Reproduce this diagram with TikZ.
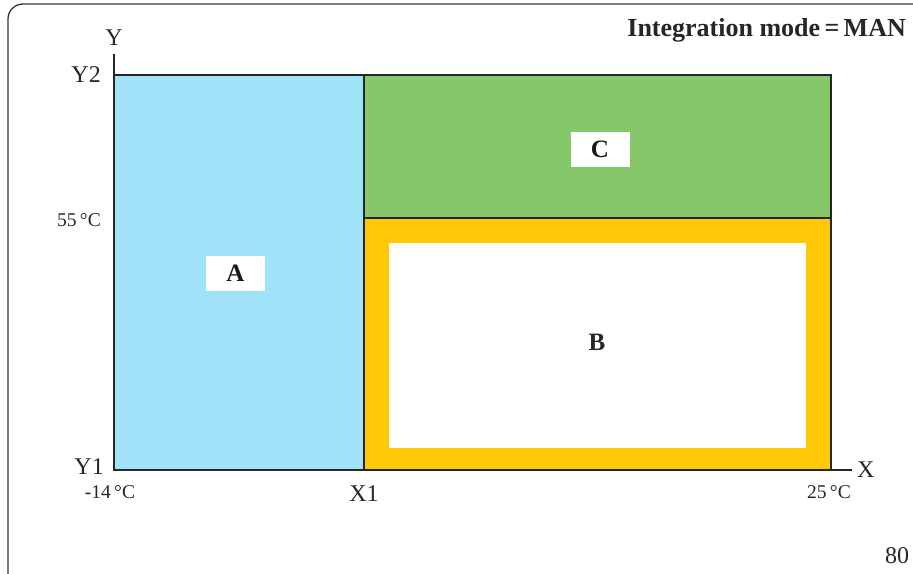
\documentclass[tikz,border=0pt]{standalone}
\usepackage{fontspec}
\setmainfont{Liberation Serif}
\begin{document}
\begin{tikzpicture}[x=1pt,y=-1pt,
  region/.style={draw=black!85,line width=2pt},
  lbl/.style={font=\fontsize{24}{24}\selectfont,text=black!85,inner sep=0pt},
  small/.style={font=\fontsize{19.5}{19.5}\selectfont,text=black!85,inner sep=0pt},
  tag/.style={fill=white,font=\bfseries\fontsize{25}{25}\selectfont,text=black!90,minimum width=59pt,minimum height=35pt,inner sep=0pt}]
\useasboundingbox (0,0) rectangle (913,573);
\definecolor{cA}{HTML}{A0E3F8}
\definecolor{cB}{HTML}{FFC907}
\definecolor{cC}{HTML}{86C76A}
% frame
\draw[black!80,line width=1.3pt,rounded corners=15pt] (8,4) rectangle (960,600);
% regions
\coordinate (o) at (114,470);
\filldraw[region,fill=cA] (114,75) rectangle (364,470);
\filldraw[region,fill=cC] (364,75) rectangle (831,218);
\filldraw[region,fill=cB] (364,218) rectangle (831,470);
\fill[white] (389,243) rectangle (806,448);
% axes
\coordinate (ytop) at (114,54);
\coordinate (xend) at (852,470);
\draw[black!85,line width=2pt] (ytop) -- (o) -- (xend);
% tags
\node[tag] (A) at (235.5,273) {A};
\node[tag] (C) at (600,149.5) {C};
\node[lbl,font=\bfseries\fontsize{25}{25}\selectfont] (B) at (597,342) {B};
% axis labels
\node[lbl] (Y) at (114,38) {Y};
\node[lbl,anchor=east] (Y2l) at (101,75) {Y2};
\node[lbl,anchor=east] (Y1l) at (104,467) {Y1};
\node[small,anchor=east] (t55) at (101,220) {55\,°C};
\node[small] (tm14) at (110,492) {-14\,°C};
\node[lbl] (X1l) at (364,494) {X1};
\node[small] (t25) at (829,492) {25\,°C};
\node[lbl,anchor=west] (Xl) at (857,470) {X};
\node[lbl] (pg) at (897,556) {80};
\node[lbl,anchor=east,font=\bfseries\fontsize{26}{26}\selectfont] (title) at (906,30) {Integration mode\,=\,MAN};
\end{tikzpicture}
\end{document}
